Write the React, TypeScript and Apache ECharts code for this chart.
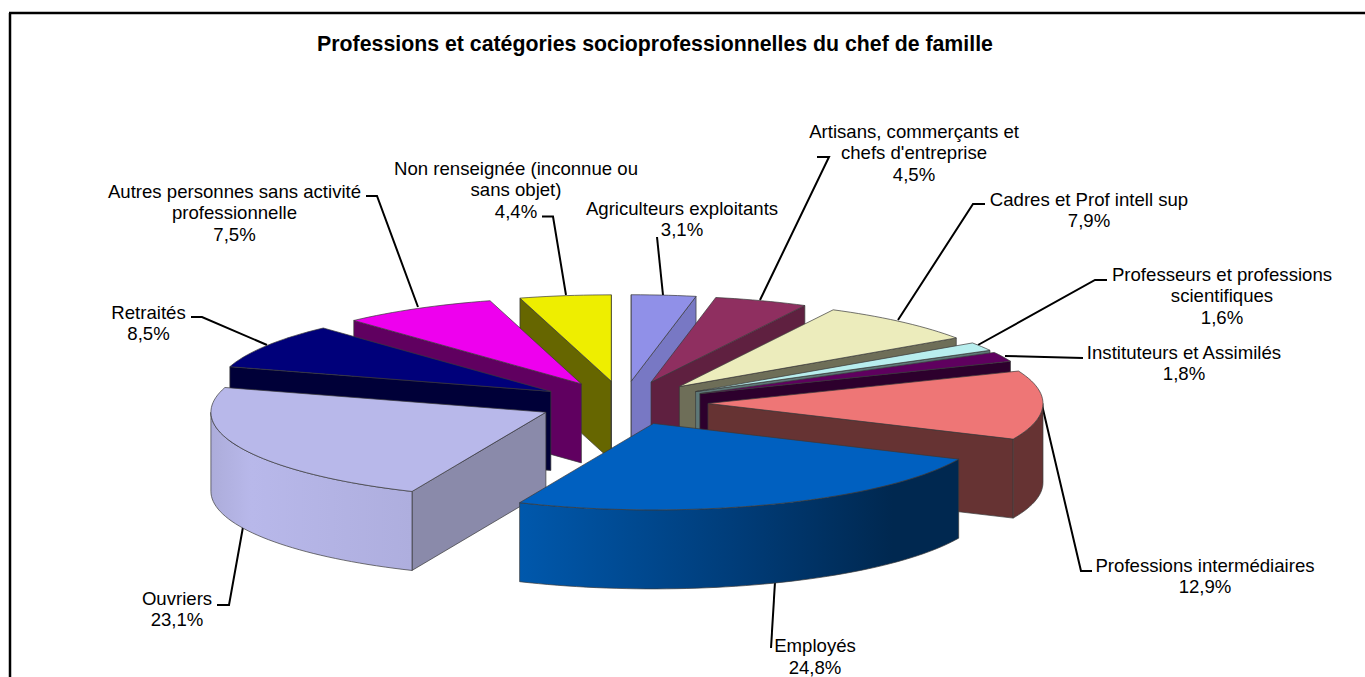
import React, { useEffect, useRef } from "react";
import * as echarts from "echarts";

const titleText = "Professions et catégories socioprofessionnelles du chef de famille";
const categories = ["Agriculteurs exploitants", "Artisans, commerçants et\nchefs d'entreprise", "Cadres et Prof intell sup", "Professeurs et professions\nscientifiques", "Instituteurs et Assimilés", "Professions intermédiaires", "Employés", "Ouvriers", "Retraités", "Autres personnes sans activité\nprofessionnelle", "Non renseignée (inconnue ou\nsans objet)"];
const shares = [3.1, 4.5, 7.9, 1.6, 1.8, 12.9, 24.8, 23.1, 8.5, 7.5, 4.4];
const valueLabels = ["3,1%", "4,5%", "7,9%", "1,6%", "1,8%", "12,9%", "24,8%", "23,1%", "8,5%", "7,5%", "4,4%"];
const topColors = ["#9090e8", "#8f2f60", "#ececbc", "#b8eeee", "#5f005f", "#ee7676", "#0060c0", "#b8b8ea", "#00007a", "#ee00ee", "#eeee00"];
const sideColors = ["#7878c4", "#5f2040", "#6e6e58", "#5e7878", "#2d002d", "#663333", "#0058ac", "#8a8aaa", "#000038", "#600060", "#666600"];
const labelCenters = [682, 914, 1089, 1222, 1184, 1205, 815, 177, 148.5, 234.5, 516];
const labelFirstLines = [208, 131, 199, 274, 352, 565, 645.5, 598, 312, 191, 168];
const leaders = [
  [[657, 237], [663, 295]],
  [[817, 157], [829, 157], [760, 300]],
  [[985, 204], [973, 204], [898, 320]],
  [[1107, 280], [1095, 280], [978, 345]],
  [[1083, 358], [1005, 356]],
  [[1092, 571], [1081, 571], [1042, 405]],
  [[771, 648], [775, 582]],
  [[217, 605], [229, 605], [243, 527]],
  [[191, 317], [202, 317], [267, 345]],
  [[366, 196], [377, 196], [418, 307]],
  [[542, 216.5], [553, 216.5], [566, 295]],
];

const CX = 623, CY = 403, R = 335, EXPLODE = 85, K = 0.258, DEPTH = 79;
const FONT = "Liberation Sans, Arial, sans-serif";

const total = shares.reduce((a, b) => a + b, 0);
const starts: number[] = [];
shares.reduce((acc, v, i) => { starts[i] = acc; return acc + v; }, 0);
const ang = (v: number) => (v / total) * Math.PI * 2;

function wallFill(i: number) {
  if (i === 6) return new echarts.graphic.LinearGradient(0, 0, 1, 0, [
    { offset: 0, color: "#0058ac" }, { offset: 0.5, color: "#003c78" }, { offset: 0.85, color: "#002850" }, { offset: 1, color: "#002850" }]);
  if (i === 7) return new echarts.graphic.LinearGradient(0, 0, 1, 0, [
    { offset: 0, color: "#acacda" }, { offset: 0.2, color: "#b8b8ea" }, { offset: 1, color: "#aeaede" }]);
  return sideColors[i];
}

function renderSlice(_params: any, api: any) {
  const i = api.value(0);
  const a0 = ang(starts[i]);
  const a1 = a0 + ang(shares[i]);
  const mid = (a0 + a1) / 2;
  const ox = CX + EXPLODE * Math.sin(mid);
  const oy = CY - EXPLODE * Math.cos(mid) * K;
  const pt = (a: number, drop = 0) => [ox + R * Math.sin(a), oy - R * Math.cos(a) * K + drop];
  const arc = (from: number, to: number) => {
    const n = Math.max(2, Math.ceil(Math.abs(to - from) / 0.03));
    return Array.from({ length: n + 1 }, (_, j) => pt(from + ((to - from) * j) / n));
  };
  const border = { stroke: "#3a3a3a", lineWidth: 0.7 };
  const face = (points: number[][], fill: any) => ({
    type: "polygon",
    shape: { points },
    style: { fill, ...border },
  });
  const radial = (a: number) => face([[ox, oy], pt(a), pt(a, DEPTH), [ox, oy + DEPTH]], sideColors[i]);
  const children: any[] = [];
  if (Math.sin(a0) <= 1e-6) children.push(radial(a0));
  if (Math.sin(a1) >= -1e-2) children.push(radial(a1));
  const wStart = Math.max(a0, Math.PI / 2);
  const wEnd = Math.min(a1, (Math.PI * 3) / 2);
  if (wEnd > wStart) {
    const rim = arc(wStart, wEnd);
    const lower = rim.map(([x, y]) => [x, y + DEPTH]).reverse();
    children.push(face([...rim, ...lower], wallFill(i)));
  }
  children.push(face([[ox, oy], ...arc(a0, a1)], topColors[i]));
  return { type: "group", children };
}

export default function App() {
  const ref = useRef<HTMLDivElement>(null);
  useEffect(() => {
    document.body.style.margin = "0";
    const chart = echarts.init(ref.current!, null, { renderer: "svg" });
    const order = shares
      .map((_, i) => i)
      .sort((p, q) => -Math.cos(ang(starts[p] + shares[p] / 2)) + Math.cos(ang(starts[q] + shares[q] / 2)));
    const line = (points: number[][], width: number) => ({
      type: "polyline",
      shape: { points },
      style: { stroke: "#000", lineWidth: width, fill: "none" },
      silent: true,
    });
    const labels = categories.flatMap((c, i) =>
      [...c.split("\n"), valueLabels[i]].map((t, j) => ({
        type: "text",
        x: labelCenters[i],
        y: labelFirstLines[i] + j * 21.7,
        style: { text: t, fill: "#000", font: `18.6px ${FONT}`, align: "center", verticalAlign: "middle" },
      }))
    );
    chart.setOption({
      animation: false,
      backgroundColor: "#fff",
      title: {
        text: titleText,
        left: 650,
        top: 28,
        textAlign: "center",
        textStyle: { fontFamily: FONT, fontWeight: "bold", fontSize: 21.3, color: "#000" },
      },
      graphic: [
        line([[9, 13], [1365, 13]], 2.5),
        line([[10, 13], [10, 677]], 2.5),
        ...leaders.map((p) => line(p, 2)),
        ...labels,
      ],
      series: [{
        type: "custom",
        coordinateSystem: "none",
        renderItem: renderSlice,
        data: order.map((i) => [i, shares[i]]),
        silent: true,
        z: 5,
      }],
    });
    return () => chart.dispose();
  }, []);
  return <div ref={ref} style={{ width: 1365, height: 677 }} />;
}
